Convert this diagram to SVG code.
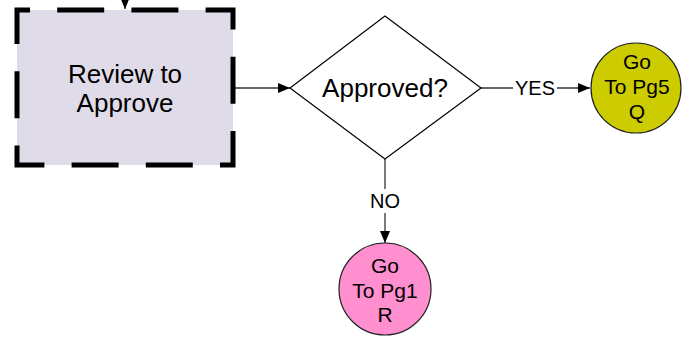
<svg xmlns="http://www.w3.org/2000/svg" width="682" height="343" viewBox="0 0 682 343">
<defs>
<style>
text{font-family:"Liberation Sans",Arial,sans-serif;fill:#000;text-anchor:middle}
.big{font-size:26px}
.sm{font-size:21px}
.lbl{font-size:20px}
.conn{stroke:#333;stroke-width:1.3;fill:none}
</style>
<marker id="arr" viewBox="0 0 12 10" refX="12" refY="5" markerWidth="12" markerHeight="10" markerUnits="userSpaceOnUse" orient="auto">
<path d="M0,0 L12,5 L0,10 Z" fill="#000"/>
</marker>
</defs>
<rect width="682" height="343" fill="#fff"/>
<g id="connectors">
<line class="conn" x1="125" y1="-2" x2="125" y2="9" marker-end="url(#arr)"/>
<line class="conn" x1="235" y1="88" x2="290" y2="88" marker-end="url(#arr)"/>
<line class="conn" x1="481" y1="88" x2="590" y2="88" marker-end="url(#arr)"/>
<rect x="513" y="76" width="44" height="24" fill="#fff"/>
<text class="lbl" x="535" y="95">YES</text>
<line class="conn" x1="385" y1="159" x2="385" y2="243" marker-end="url(#arr)"/>
<rect x="369" y="189" width="32" height="24" fill="#fff"/>
<text class="lbl" x="385" y="208">NO</text>
</g>
<g id="review">
<rect x="17" y="10" width="216" height="155" fill="#e0dbe9" stroke="#000" stroke-width="5" stroke-dasharray="47 27.2" stroke-dashoffset="34"/>
<text class="big" x="125" y="83">Review to</text>
<text class="big" x="125" y="112">Approve</text>
</g>
<g id="approved">
<polygon points="385,16 481,88 385,159 290,88" fill="#fff" stroke="#000" stroke-width="1.2"/>
<text class="big" x="385" y="97">Approved?</text>
</g>
<g id="pg5">
<circle cx="636" cy="88" r="45" fill="#cccc00" stroke="#222" stroke-width="1.2"/>
<text class="sm" x="637" y="69">Go</text>
<text class="sm" x="637" y="94">To Pg5</text>
<text class="sm" x="637" y="119">Q</text>
</g>
<g id="pg1">
<circle cx="385" cy="289" r="46" fill="#ff8fcf" stroke="#222" stroke-width="1.2"/>
<text class="sm" x="385" y="273">Go</text>
<text class="sm" x="385" y="298">To Pg1</text>
<text class="sm" x="385" y="322">R</text>
</g>
</svg>
